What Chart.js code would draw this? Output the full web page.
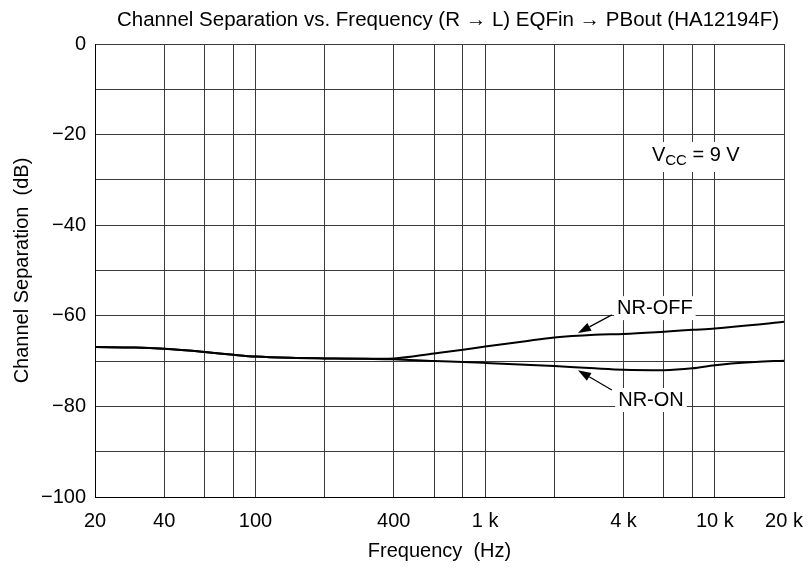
<!DOCTYPE html>
<html>
<head>
<meta charset="utf-8">
<script src="https://cdn.jsdelivr.net/npm/chart.js@4.4.0/dist/chart.umd.min.js"></script>
<style>
  body { margin: 0; background: #fff; }
</style>
</head>
<body>
<canvas id="mycanvas" width="812" height="569"></canvas>
<script>
// frequency points (Hz) and read-off values (dB)
var freqs = [20, 30, 40, 60, 80, 100, 150, 200, 300, 400, 600, 800, 1000, 1500, 2000, 3000, 4000, 6000, 8000, 10000, 15000, 20000];
var nrOff = [-66.9, -67.0, -67.3, -68.0, -68.6, -69.0, -69.3, -69.4, -69.5, -69.4, -68.3, -67.5, -66.8, -65.6, -64.8, -64.2, -64.0, -63.5, -63.1, -62.8, -62.0, -61.3];
var nrOn = [-66.9, -67.0, -67.3, -68.0, -68.6, -69.0, -69.3, -69.4, -69.5, -69.6, -70.0, -70.2, -70.4, -70.8, -71.1, -71.6, -71.9, -72.0, -71.6, -70.9, -70.2, -69.9];

// axes
var gridFreqs = [20, 40, 60, 80, 100, 200, 400, 600, 800, 1000, 2000, 4000, 6000, 8000, 10000, 20000];
var labelFreqs = [20, 40, 100, 400, 1000, 4000, 10000, 20000];
var labelTexts = ['20', '40', '100', '400', '1 k', '4 k', '10 k', '20 k'];
var yLabelValues = [0, -20, -40, -60, -80, -100];

var fontFamily = 'Arial, "Liberation Sans", Helvetica, sans-serif';

// callouts (data coords)
var notes = [
  { text: 'NR-OFF', x: 5480, y: -58.3, fromX: 3560, fromY: -59.8, toX: 2535, toY: -63.8 },
  { text: 'NR-ON', x: 5270, y: -78.6, fromX: 3560, fromY: -76.4, toX: 2535, toY: -72.0 }
];

var annotate = {
  id: 'annotate',
  afterDraw: function(chart) {
    var ctx = chart.ctx;
    var xs = chart.scales.x, ys = chart.scales.y;
    ctx.save();

    // title
    ctx.fillStyle = '#000';
    ctx.font = '20.5px ' + fontFamily;
    ctx.textAlign = 'center';
    ctx.textBaseline = 'middle';
    ctx.fillText('Channel Separation vs. Frequency (R \u2192 L) EQFin \u2192 PBout (HA12194F)', 448, 20);

    // callouts with arrows
    notes.forEach(function(n) {
      var tx = xs.getPixelForValue(n.x), ty = ys.getPixelForValue(n.y);
      ctx.font = '20px ' + fontFamily;
      var w = ctx.measureText(n.text).width;
      ctx.fillStyle = '#fff';
      ctx.fillRect(tx - w / 2 - 3, ty - 12, w + 6, 24);
      ctx.fillStyle = '#000';
      ctx.fillText(n.text, tx, ty);

      var x1 = xs.getPixelForValue(n.fromX), y1 = ys.getPixelForValue(n.fromY);
      var x2 = xs.getPixelForValue(n.toX), y2 = ys.getPixelForValue(n.toY);
      var ang = Math.atan2(y2 - y1, x2 - x1);
      var len = 13, hw = 4.5;
      ctx.strokeStyle = '#000';
      ctx.lineWidth = 1.2;
      ctx.beginPath();
      ctx.moveTo(x1, y1);
      ctx.lineTo(x2 - Math.cos(ang) * len, y2 - Math.sin(ang) * len);
      ctx.stroke();
      ctx.beginPath();
      ctx.moveTo(x2, y2);
      ctx.lineTo(x2 - Math.cos(ang) * len - Math.sin(ang) * hw, y2 - Math.sin(ang) * len + Math.cos(ang) * hw);
      ctx.lineTo(x2 - Math.cos(ang) * len + Math.sin(ang) * hw, y2 - Math.sin(ang) * len - Math.cos(ang) * hw);
      ctx.closePath();
      ctx.fill();
    });

    // Vcc label
    var vx = xs.getPixelForValue(8260), vy = ys.getPixelForValue(-24.5);
    ctx.font = '20px ' + fontFamily;
    var wV = ctx.measureText('V').width;
    var wRest = ctx.measureText(' = 9 V').width;
    ctx.font = '15px ' + fontFamily;
    var wSub = ctx.measureText('CC').width;
    var total = wV + wSub + wRest;
    var sx = vx - total / 2;
    ctx.fillStyle = '#fff';
    ctx.fillRect(sx - 3, vy - 13, total + 6, 30);
    ctx.fillStyle = '#000';
    ctx.textAlign = 'left';
    ctx.font = '20px ' + fontFamily;
    ctx.fillText('V', sx, vy);
    ctx.font = '15px ' + fontFamily;
    ctx.fillText('CC', sx + wV, vy + 6);
    ctx.font = '20px ' + fontFamily;
    ctx.fillText(' = 9 V', sx + wV + wSub, vy);

    ctx.restore();
  }
};

var chartdata = {
  labels: freqs,
  datasets: [
    {
      label: 'NR-OFF',
      data: freqs.map(function(f, i) { return { x: f, y: nrOff[i] }; }),
      borderColor: '#000',
      borderWidth: 2,
      pointRadius: 0,
      fill: false,
      cubicInterpolationMode: 'monotone'
    },
    {
      label: 'NR-ON',
      data: freqs.map(function(f, i) { return { x: f, y: nrOn[i] }; }),
      borderColor: '#000',
      borderWidth: 2,
      pointRadius: 0,
      fill: false,
      cubicInterpolationMode: 'monotone'
    }
  ]
};

var ctx = document.getElementById('mycanvas');

var LineGraph = new Chart(ctx, {
  type: 'line',
  data: chartdata,
  plugins: [annotate],
  options: {
    responsive: false,
    animation: false,
    devicePixelRatio: 1,
    layout: { padding: { top: 44, right: 28, left: 0, bottom: 0 } },
    plugins: {
      legend: { display: false },
      tooltip: { enabled: false },
      title: { display: false }
    },
    scales: {
      x: {
        type: 'logarithmic',
        min: 20,
        max: 20000,
        afterBuildTicks: function(scale) {
          scale.ticks = gridFreqs.map(function(v) { return { value: v }; });
        },
        afterFit: function(scale) {
          scale.height = 72;
          scale.paddingLeft = 0;
          scale.paddingRight = 0;
        },
        grid: { color: '#3a3a3a', lineWidth: 1, drawTicks: false },
        border: { color: '#000', width: 1 },
        ticks: {
          autoSkip: false,
          maxRotation: 0,
          padding: 12,
          color: '#000',
          font: { family: fontFamily, size: 20 },
          callback: function(value) {
            var k = labelFreqs.indexOf(value);
            return k >= 0 ? labelTexts[k] : '';
          }
        },
        title: {
          display: true,
          text: 'Frequency  (Hz)',
          color: '#000',
          font: { family: fontFamily, size: 20 },
          padding: { top: 0, bottom: 6 }
        }
      },
      y: {
        min: -100,
        max: 0,
        afterFit: function(scale) { scale.width = 95; },
        grid: { color: '#3a3a3a', lineWidth: 1, drawTicks: false },
        border: { color: '#000', width: 1 },
        ticks: {
          stepSize: 10,
          padding: 9,
          color: '#000',
          font: { family: fontFamily, size: 20 },
          callback: function(value) {
            if (yLabelValues.indexOf(value) < 0) return '';
            return value < 0 ? '\u2212' + Math.abs(value) : String(value);
          }
        },
        title: {
          display: true,
          text: 'Channel Separation  (dB)',
          color: '#000',
          font: { family: fontFamily, size: 20 },
          padding: { top: 10, bottom: 0 }
        }
      }
    }
  }
});
</script>
</body>
</html>
